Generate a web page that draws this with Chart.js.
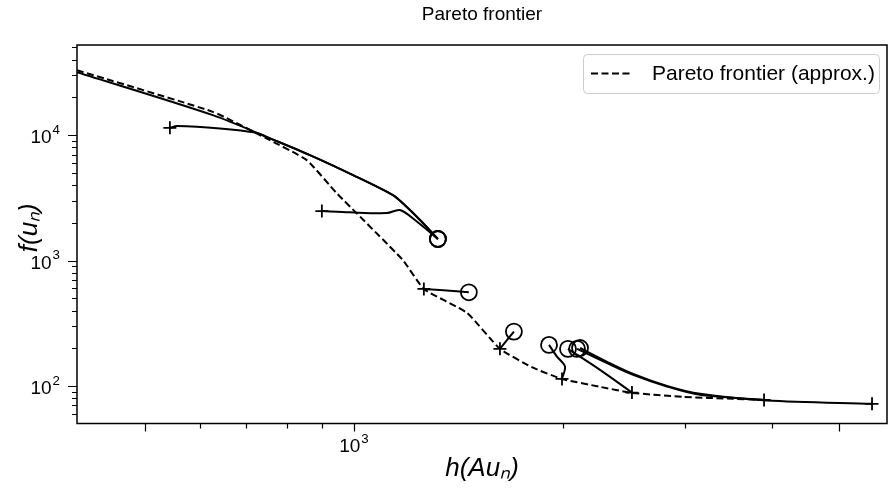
<!DOCTYPE html>
<html>
<head>
<meta charset="utf-8">
<script src="https://cdn.jsdelivr.net/npm/chart.js@4/dist/chart.umd.min.js"></script>
<style>
html, body { margin: 0; padding: 0; background: #fff; overflow: hidden; }
canvas { display: block; }
</style>
</head>
<body>
<canvas id="chart" width="888" height="489"></canvas>
<script>
// approximate frontier (dashed)
const frontierH = [399, 626, 748, 855, 944, 1176, 1261, 1455, 1623, 1811, 1994, 2262, 2515, 2979, 3516, 3883];
const frontierF = [32920, 15330, 9413, 6324, 3452, 1011, 594, 383, 198, 140, 114, 98.6, 88.3, 82, 79.1, 77.6];

// solver runs: first point = start (+), last point = end (o)
const runH = [
  [399, 626, 748, 864, 997, 1138, 1176, 1245, 1321],
  [543, 556, 641, 724, 748, 864, 997, 1138, 1176, 1245, 1321],
  [899, 987, 1116, 1165, 1233, 1321],
  [1261, 1436, 1464],
  [1623, 1700],
  [1994, 2014, 1961, 1910],
  [2515, 2262, 2034],
  [3898, 3152, 2825, 2525, 2316, 2096],
  [5577, 3936, 3152, 2825, 2525, 2316, 2117]
];
const runF = [
  [31730, 14430, 9694, 6933, 4803, 3330, 2859, 2105, 1486],
  [11430, 11800, 11305, 10430, 9694, 6933, 4803, 3330, 2859, 2105, 1486],
  [2483, 2424, 2393, 2529, 2040, 1486],
  [594, 565.5, 559],
  [198, 271.6],
  [114, 143, 171.8, 212.8],
  [88.8, 134.6, 197.8],
  [77.6, 85.1, 99.1, 122.8, 152.2, 197.8],
  [72.2, 76.7, 86.7, 100.4, 125, 156, 201]
];
const runHasStart = [false, true, true, true, true, true, true, true, true];

const xTicks = [500, 600, 700, 800, 900, 1000, 2000, 3000, 4000, 5000];
const xTicksLong = [500, 1000, 5000];
const xLabels = [1000];
const yTicks = [60, 70, 80, 90, 100, 200, 300, 400, 500, 600, 700, 800, 900,
  1000, 2000, 3000, 4000, 5000, 6000, 7000, 8000, 9000, 10000, 20000, 30000, 40000, 50000];
const yTicksLong = [100, 1000, 10000];
const yLabels = [100, 1000, 10000];

const FONT = "'Liberation Sans', Arial, Helvetica, sans-serif";
Chart.defaults.font.family = FONT;
Chart.defaults.color = '#000';

function toPts(xs, ys){
  return xs.map((x, i) => ({x: x, y: ys[i]}));
}

const datasets = [{
  label: 'Pareto frontier (approx.)',
  data: toPts(frontierH, frontierF),
  showLine: true,
  borderColor: '#000',
  borderWidth: 2,
  borderDash: [7, 3.5],
  pointRadius: 0,
  tension: 0.15
}];

runH.forEach((xs, r) => {
  const last = xs.length - 1;
  datasets.push({
    label: 'run ' + (r + 1),
    data: toPts(xs, runF[r]),
    showLine: true,
    borderColor: '#000',
    borderWidth: 2,
    tension: 0.3,
    pointStyle: c => c.dataIndex === last ? 'circle' : 'cross',
    pointRadius: c => c.dataIndex === last ? 8 : (c.dataIndex === 0 && runHasStart[r] ? 6.5 : 0),
    pointBorderWidth: 1.8,
    pointBorderColor: '#000',
    pointBackgroundColor: 'rgba(0,0,0,0)'
  });
});

// "10" with a raised exponent, like the mathtext tick labels
function powLabel(ctx, v, x, baseline, align){
  const exp = String(Math.round(Math.log10(v)));
  ctx.font = '19px ' + FONT;
  const bw = ctx.measureText('10').width;
  ctx.font = '13.3px ' + FONT;
  const ew = ctx.measureText(exp).width;
  const total = bw + 1 + ew;
  const left = align === 'center' ? x - total / 2 : x - total;
  ctx.textAlign = 'left';
  ctx.textBaseline = 'alphabetic';
  ctx.font = '19px ' + FONT;
  ctx.fillText('10', left, baseline);
  ctx.font = '13.3px ' + FONT;
  ctx.fillText(exp, left + bw + 1, baseline - 9.5);
}

const framePlugin = {
  id: 'frame',
  afterDraw(chart){
    const {ctx, chartArea: a, scales} = chart;
    ctx.save();
    ctx.strokeStyle = '#000';
    ctx.lineWidth = 1.5;
    ctx.strokeRect(a.left, a.top, a.right - a.left, a.bottom - a.top);
    ctx.lineWidth = 1.2;
    ctx.beginPath();
    xTicks.forEach(v => {
      const px = Math.round(scales.x.getPixelForValue(v)) + 0.5;
      if(px < a.left || px > a.right) return;
      const len = xTicksLong.includes(v) ? 8 : 5;
      ctx.moveTo(px, a.bottom);
      ctx.lineTo(px, a.bottom + len);
    });
    yTicks.forEach(v => {
      const py = Math.round(scales.y.getPixelForValue(v)) + 0.5;
      if(py < a.top || py > a.bottom) return;
      const len = yTicksLong.includes(v) ? 9 : 5;
      ctx.moveTo(a.left, py);
      ctx.lineTo(a.left - len, py);
    });
    ctx.stroke();

    ctx.fillStyle = '#000';
    xLabels.forEach(v => powLabel(ctx, v, scales.x.getPixelForValue(v), a.bottom + 28.5, 'center'));
    yLabels.forEach(v => powLabel(ctx, v, a.left - 17, scales.y.getPixelForValue(v) + 8, 'right'));

    // legend box inside the axes, top right
    const ds = chart.data.datasets[0];
    const bx = 583, by = 54, bw = 296, bh = 39;
    ctx.beginPath();
    ctx.roundRect(bx + 0.5, by + 0.5, bw, bh, 4);
    ctx.fillStyle = 'rgba(255,255,255,0.8)';
    ctx.fill();
    ctx.strokeStyle = '#cccccc';
    ctx.lineWidth = 1;
    ctx.stroke();
    ctx.beginPath();
    ctx.setLineDash(ds.borderDash);
    ctx.strokeStyle = '#000';
    ctx.lineWidth = 2;
    ctx.moveTo(591, by + bh / 2);
    ctx.lineTo(632, by + bh / 2);
    ctx.stroke();
    ctx.setLineDash([]);
    ctx.fillStyle = '#000';
    ctx.font = '21px ' + FONT;
    ctx.textAlign = 'left';
    ctx.textBaseline = 'middle';
    ctx.fillText(ds.label, 652, by + bh / 2 + 1);
    ctx.restore();
  }
};

new Chart(document.getElementById('chart'), {
  type: 'scatter',
  data: { datasets: datasets },
  plugins: [framePlugin],
  options: {
    responsive: false,
    devicePixelRatio: 1,
    animation: false,
    events: [],
    layout: { autoPadding: false, padding: { left: 0, right: 1, top: 0, bottom: 0 } },
    plugins: {
      legend: { display: false },
      tooltip: { enabled: false },
      title: {
        display: true,
        text: 'Pareto frontier',
        fullSize: false,
        font: { size: 19, weight: 'normal' },
        padding: { top: 3, bottom: 19.2 }
      }
    },
    scales: {
      x: {
        type: 'logarithmic',
        min: 399,
        max: 5861,
        grid: { display: false },
        border: { display: false },
        afterBuildTicks: s => { s.ticks = xLabels.map(v => ({value: v})); },
        afterFit: s => { s.height = 65.5; s.paddingLeft = 0; s.paddingRight = 0; },
        ticks: { display: false },
        title: {
          display: true,
          text: 'h(Au\u2099)',
          font: { size: 26, style: 'italic' },
          padding: { top: 0, bottom: 5 }
        }
      },
      y: {
        type: 'logarithmic',
        min: 50.3,
        max: 52270,
        grid: { display: false },
        border: { display: false },
        afterBuildTicks: s => { s.ticks = yLabels.map(v => ({value: v})); },
        afterFit: s => { s.width = 77; s.paddingTop = 0; s.paddingBottom = 0; },
        ticks: { display: false },
        title: {
          display: true,
          text: '\u2002f(u\u2099)',
          font: { size: 26, style: 'italic' },
          padding: { top: 14, bottom: 0 }
        }
      }
    }
  }
});
</script>
</body>
</html>
